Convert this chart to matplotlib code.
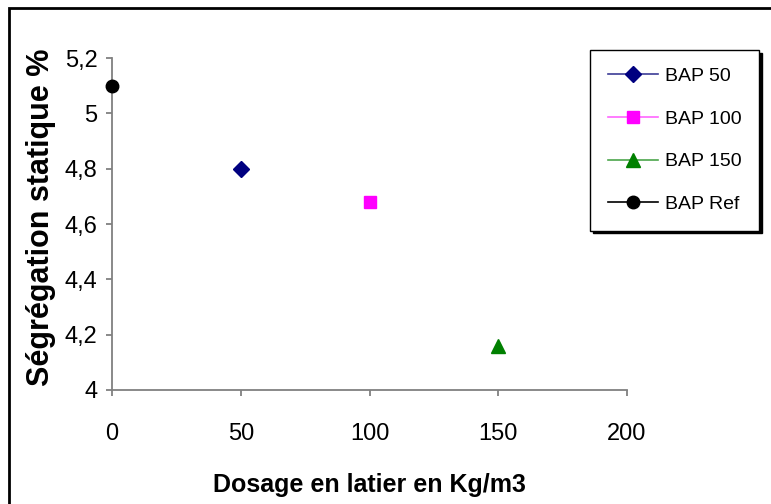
import matplotlib
matplotlib.use("Agg")
import matplotlib.pyplot as plt
from matplotlib.patches import Rectangle
from matplotlib.ticker import FuncFormatter

plt.rcParams['font.family'] = ['Liberation Sans', 'DejaVu Sans']

series = ["BAP 50", "BAP 100", "BAP 150", "BAP Ref"]
x_vals = [50, 100, 150, 0]
y_vals = [4.80, 4.68, 4.16, 5.10]
colors = ["#000080", "#FF00FF", "#008000", "#000000"]
line_colors = ["#3C3C96", "#FF66FF", "#4CA64C", "#000000"]
markers = ["D", "s", "^", "o"]
msizes = [8, 8, 10, 9]
x_ticks = [0, 50, 100, 150, 200]
y_ticks = [4.0, 4.2, 4.4, 4.6, 4.8, 5.0, 5.2]

W, H = 771, 504
fig = plt.figure(figsize=(W / 100, H / 100), dpi=100)
ax = fig.add_axes([112 / W, 1 - 390 / H, (627 - 112) / W, (390 - 58) / H])

handles = []
for name, x, y, c, lc, m, ms in zip(series, x_vals, y_vals, colors, line_colors, markers, msizes):
    ax.plot([x], [y], linestyle='none', marker=m, color=c, markersize=ms, clip_on=False, zorder=5)
    h, = ax.plot([], [], color=lc, marker=m, markerfacecolor=c, markeredgecolor=c,
                 markersize=ms, linewidth=1.2, label=name)
    handles.append(h)

ax.set_xlim(0, 200)
ax.set_ylim(4.0, 5.2)
ax.set_xticks(x_ticks)
ax.set_yticks(y_ticks)
fmt = FuncFormatter(lambda v, p: ('%g' % round(v, 2)).replace('.', ','))
ax.xaxis.set_major_formatter(fmt)
ax.yaxis.set_major_formatter(fmt)

for s in ['top', 'right']:
    ax.spines[s].set_visible(False)
for s in ['left', 'bottom']:
    ax.spines[s].set_color('#808080')
    ax.spines[s].set_linewidth(1.3)
ax.tick_params(axis='both', colors='#808080', labelcolor='black', labelsize=17, length=4.5, width=1.3)
ax.tick_params(axis='x', pad=19.5)
ax.tick_params(axis='y', pad=6)

ax.set_xlabel("Dosage en latier en Kg/m3", fontsize=18, fontweight='bold', labelpad=20)
ax.set_ylabel("Ségrégation statique %", fontsize=22, fontweight='bold', labelpad=6)
ax.yaxis.label.set_y(0.521)

leg = fig.legend(handles=handles, loc='upper left', bbox_to_anchor=(590 / W, 1 - 50 / H),
                 bbox_transform=fig.transFigure, frameon=True, fancybox=False,
                 edgecolor='black', fontsize=14, handlelength=2.6, labelspacing=1.29,
                 borderpad=0.9, handletextpad=0.35, borderaxespad=0,
                 shadow={'color': 'black', 'alpha': 1.0})
leg.get_frame().set_linewidth(1.0)

# outer chart border
fig.patches.append(Rectangle((9 / W, -0.5), 2.0, (1 - 8 / H) + 0.5, transform=fig.transFigure,
                             fill=False, edgecolor='black', linewidth=2.0))

fig.savefig("out.png", dpi=100)
